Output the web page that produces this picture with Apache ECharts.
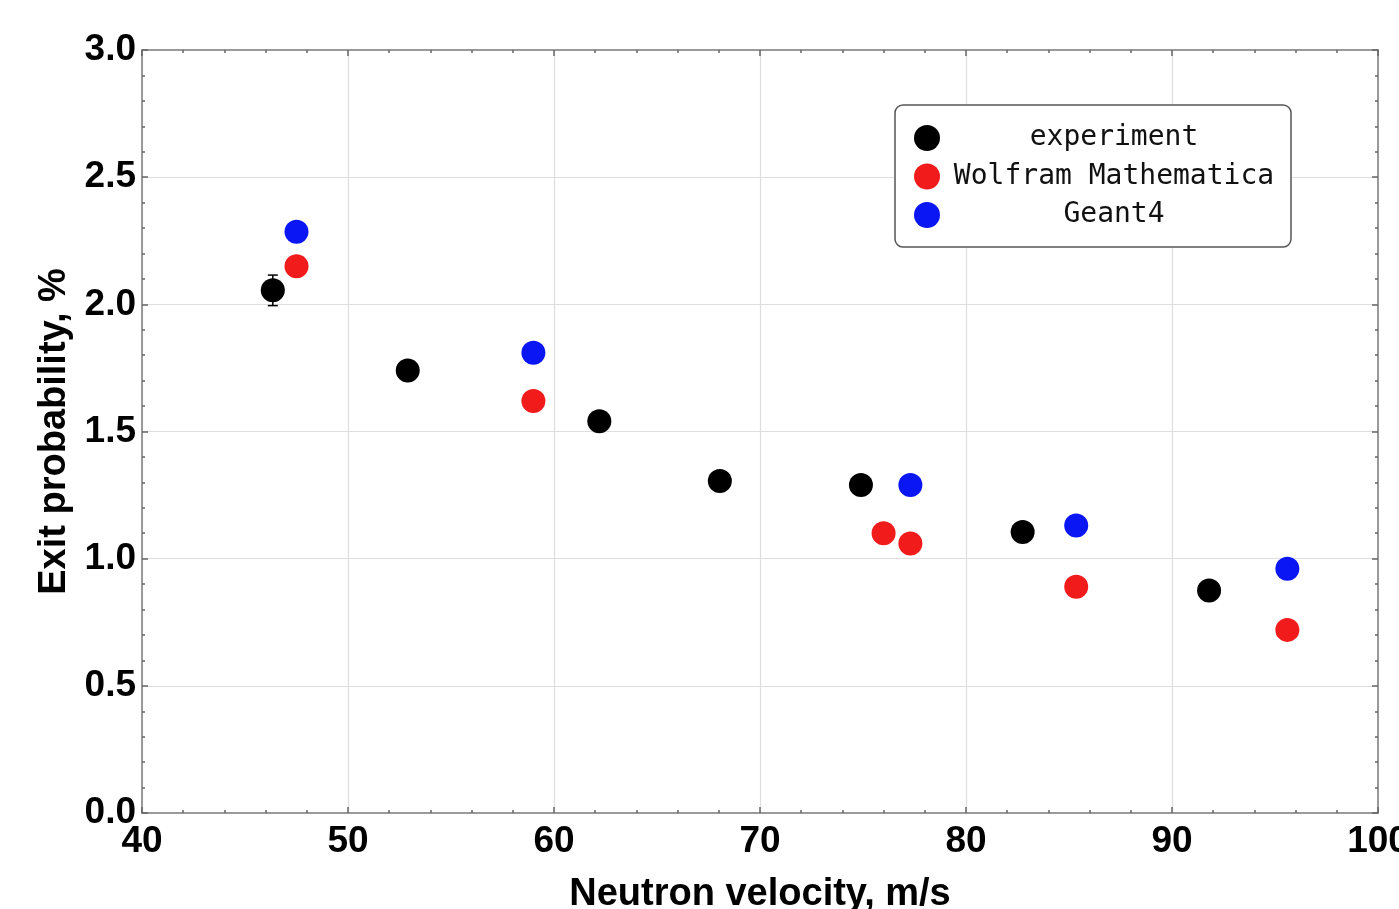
<!DOCTYPE html>
<html>
<head>
<meta charset="utf-8">
<script src="https://cdn.jsdelivr.net/npm/echarts@6/dist/echarts.min.js"></script>
<style>
html,body{margin:0;padding:0;background:#fff}
#chart{width:1399px;height:909px}
</style>
</head>
<body>
<div id="chart"></div>
<script>
// experiment points (with error bars)
var expX = [46.35, 52.9, 62.2, 68.05, 74.9, 82.75, 91.8];
var expY = [2.055, 1.74, 1.54, 1.305, 1.29, 1.105, 0.875];
var expErr = [0.06, 0.03, 0.03, 0.03, 0.03, 0.03, 0.03];
// Wolfram Mathematica
var wolfX = [47.5, 59.0, 76.0, 77.3, 85.35, 95.6];
var wolfY = [2.15, 1.62, 1.10, 1.06, 0.89, 0.72];
// Geant4
var geantX = [47.5, 59.0, 77.3, 85.35, 95.6];
var geantY = [2.285, 1.81, 1.29, 1.13, 0.96];
// axes
var xRange = [40, 100, 10];
var yRange = [0, 3, 0.5];
var seriesNames = ['experiment', 'Wolfram Mathematica', 'Geant4'];
var seriesColors = ['#000000', '#f21b1b', '#0b16f5'];

var chart = echarts.init(document.getElementById('chart'));
var font = 'Liberation Sans';

function pairs(xs, ys, zs){
    return xs.map(function(x, i){
        return zs ? [x, ys[i], zs[i]] : [x, ys[i]];
    });
}

function axis(pos, r, showLabel, name){
    var a = {
        type: 'value',
        position: pos,
        min: r[0], max: r[1], interval: r[2],
        axisLine: {show: true, onZero: false, lineStyle: {color: '#9a9a9a', width: 2}},
        axisTick: {show: true, inside: true, length: 6, lineStyle: {color: '#666', width: 1.5}},
        minorTick: {show: true, splitNumber: 5, length: 3, lineStyle: {color: '#666', width: 1.5}},
        splitLine: {show: false},
        axisLabel: {show: false}
    };
    if(showLabel){
        a.splitLine = {show: true, lineStyle: {color: '#dedede', width: 1.2}};
        a.axisLabel = {
            show: true, fontFamily: font, fontWeight: 'bold', fontSize: 37, color: '#000',
            margin: pos == 'bottom' ? 10 : 6,
            formatter: function(v){ return pos == 'bottom' ? String(v) : v.toFixed(1); }
        };
        a.name = name;
        a.nameLocation = 'middle';
        a.nameTextStyle = {fontFamily: font, fontWeight: 'bold', fontSize: 38, color: '#000'};
        a.nameGap = pos == 'bottom' ? 63 : 68;
    }
    return a;
}

var option = {
    backgroundColor: '#fff',
    animation: false,
    grid: {left: 142, right: 21, top: 50, bottom: 96, containLabel: false, outerBoundsMode: 'none'},
    xAxis: [
        axis('bottom', xRange, true, 'Neutron velocity, m/s'),
        axis('top', xRange, false)
    ],
    yAxis: [
        axis('left', yRange, true, 'Exit probability, %'),
        axis('right', yRange, false)
    ],
    legend: {
        data: seriesNames,
        orient: 'vertical',
        left: 895, top: 105,
        padding: [19, 8, 18, 19],
        itemGap: 10.5,
        itemWidth: 26, itemHeight: 26,
        icon: 'circle',
        backgroundColor: '#fff',
        borderColor: '#555',
        borderWidth: 1.5,
        borderRadius: 8,
        formatter: function(name){ return '{t|' + name + '}'; },
        textStyle: {
            fontFamily: 'DejaVu Sans Mono', fontSize: 28, color: '#111',
            rich: {t: {width: 338, align: 'center', fontFamily: 'DejaVu Sans Mono', fontSize: 28, lineHeight: 26}}
        }
    },
    series: [
        {
            name: 'errbar',
            type: 'custom',
            z: 1,
            data: pairs(expX, expY, expErr),
            renderItem: function(params, api){
                var x = api.value(0), y = api.value(1), e = api.value(2);
                var t = api.coord([x, y + e]), b = api.coord([x, y - e]);
                var cap = 5, st = {stroke: '#000', lineWidth: 1.5};
                return {type: 'group', children: [
                    {type: 'line', shape: {x1: t[0], y1: t[1], x2: b[0], y2: b[1]}, style: st},
                    {type: 'line', shape: {x1: t[0] - cap, y1: t[1], x2: t[0] + cap, y2: t[1]}, style: st},
                    {type: 'line', shape: {x1: b[0] - cap, y1: b[1], x2: b[0] + cap, y2: b[1]}, style: st}
                ]};
            }
        },
        {name: seriesNames[0], type: 'scatter', z: 3, symbolSize: 24,
         itemStyle: {color: seriesColors[0], opacity: 1}, data: pairs(expX, expY)},
        {name: seriesNames[1], type: 'scatter', z: 3, symbolSize: 24,
         itemStyle: {color: seriesColors[1], opacity: 1}, data: pairs(wolfX, wolfY)},
        {name: seriesNames[2], type: 'scatter', z: 3, symbolSize: 24,
         itemStyle: {color: seriesColors[2], opacity: 1}, data: pairs(geantX, geantY)}
    ]
};
chart.setOption(option);
</script>
</body>
</html>
